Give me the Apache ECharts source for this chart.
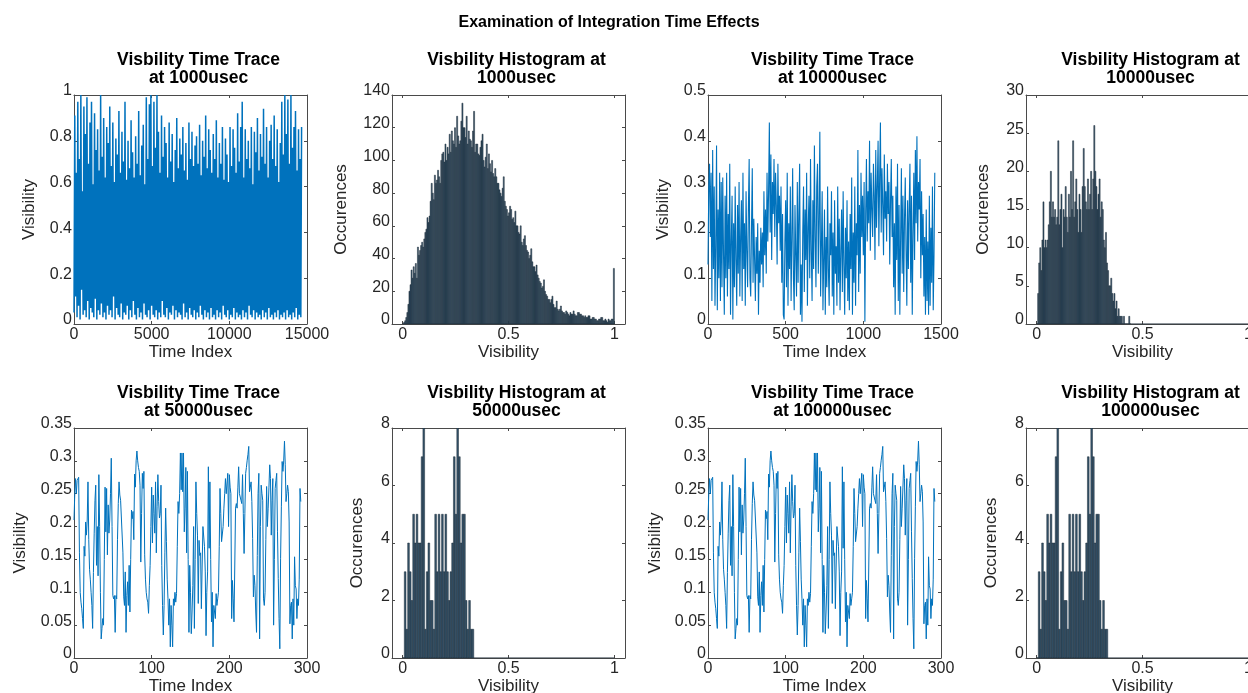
<!DOCTYPE html>
<html><head><meta charset="utf-8">
<script src="https://cdn.jsdelivr.net/npm/echarts@6/dist/echarts.min.js"></script>
<style>html,body{margin:0;padding:0;background:#fff}#c{width:1248px;height:693px}</style>
</head><body><div id="c"></div>
<script>
// ---------------- DATA ----------------
const mainTitle = 'Examination of Integration Time Effects';
const panelTitles = [
  'Visbility Time Trace\nat 1000usec', 'Visbility Histogram at\n1000usec',
  'Visbility Time Trace\nat 10000usec', 'Visbility Histogram at\n10000usec',
  'Visbility Time Trace\nat 50000usec', 'Visbility Histogram at\n50000usec',
  'Visbility Time Trace\nat 100000usec', 'Visbility Histogram at\n100000usec'
];
const histRange = [0, 1];
const histXTicks = [0, 0.5, 1];

// 1000 usec time trace (sampled every 49 time indices)
const trace1000Step = 49;
const trace1000 = [
0.05,0.91,0.12,0.66,0.03,0.97,0.08,0.72,0.02,1.00,0.15,0.58,0.04,0.95,0.06,0.83,0.03,0.99,0.10,0.70,
0.02,0.88,0.07,0.97,0.05,0.61,0.03,0.92,0.11,0.76,0.02,0.85,0.06,0.67,0.04,1.00,0.09,0.73,0.03,0.90,
0.05,0.64,0.02,0.86,0.08,0.79,0.04,0.95,0.06,0.69,0.03,0.88,0.12,0.62,0.02,0.81,0.07,0.74,0.04,0.93,
0.03,0.66,0.09,0.84,0.02,0.71,0.05,0.97,0.04,0.63,0.08,0.80,0.02,0.68,0.06,0.89,0.03,0.75,0.10,0.64,
0.04,0.82,0.02,0.70,0.07,0.93,0.03,0.65,0.05,0.78,0.02,0.87,0.09,0.61,0.04,0.99,0.03,0.72,0.06,0.96,
0.02,1.00,0.08,0.69,0.04,0.97,0.03,0.77,0.06,1.00,0.02,0.84,0.05,0.66,0.03,0.91,0.10,0.73,0.04,0.86,
0.03,0.79,0.07,0.64,0.02,0.88,0.05,0.71,0.04,0.83,0.08,0.62,0.02,0.76,0.06,0.90,0.03,0.68,0.05,0.81,
0.04,0.74,0.02,0.86,0.09,0.67,0.03,0.79,0.05,0.63,0.02,0.88,0.07,0.72,0.04,0.84,0.03,0.69,0.06,0.78,
0.02,0.82,0.05,0.70,0.03,0.87,0.08,0.65,0.04,0.80,0.02,0.73,0.06,0.91,0.03,0.68,0.05,0.85,0.02,0.76,
0.07,0.66,0.03,0.83,0.04,0.72,0.02,0.89,0.06,0.64,0.03,0.79,0.05,0.70,0.02,0.86,0.08,0.63,0.04,0.81,
0.03,0.74,0.06,0.62,0.02,0.86,0.04,0.69,0.03,0.85,0.07,0.77,0.02,0.66,0.05,0.92,0.03,0.71,0.04,0.86,
0.02,0.97,0.06,0.64,0.03,0.85,0.05,0.72,0.02,0.80,0.08,0.68,0.04,0.86,0.03,0.61,0.06,0.84,0.02,0.75,
0.05,0.90,0.03,0.67,0.04,0.83,0.02,0.73,0.06,0.94,0.03,0.70,0.05,0.86,0.02,0.64,0.07,0.80,0.03,0.87,
0.04,0.72,0.02,0.91,0.05,0.69,0.03,0.85,0.06,0.62,0.02,0.79,0.04,0.97,0.03,0.74,0.05,1.00,0.02,0.83,
0.06,0.98,0.03,0.70,0.04,1.00,0.02,0.77,0.05,0.86,0.03,0.93,0.07,0.67,0.02,0.85,0.04,0.72,0.03,0.86
];

// 1000 usec histogram (bin width 0.005 starting at 0)
const hist1000BinWidth = 0.005;
const hist1000 = [
0,1, 2,4, 7,12, 20,24, 33,28, 35,31, 37,28, 47,42, 45,48, 50,47,
52,56, 58,65, 62,66, 75,86, 80,76, 91,86, 88,94, 90,86, 100,104, 105,99,
110,100, 108,104, 116,105, 118,112, 110,120, 108,127, 115,110, 112,124, 135,120, 120,114,
127,110, 118,113, 112,108, 118,130, 105,110, 110,104, 103,108, 112,116, 100,96, 102,110,
95,104, 98,93, 100,92, 90,95, 90,86, 86,82, 80,78, 83,90, 75,72, 70,66,
68,72, 70,64, 65,62, 69,60, 60,56, 55,60, 50,48, 52,54, 48,45, 44,40,
42,46, 38,35, 35,32, 36,30, 28,26, 25,22, 23,27, 20,18, 17,15, 15,13,
15,17, 12,10, 10,14, 9,8, 9,11, 8,7, 7,6, 8,7, 6,5, 7,6,
6,8, 6,5, 5,7, 7,6, 6,5, 5,4, 5,4, 4,5, 5,3, 3,4,
4,3, 3,2, 2,3, 3,4, 4,2, 2,3, 2,1, 3,2, 2,3, 3,34
];

// 10000 usec time trace (sampled every 5 time indices)
const trace10000Step = 5;
const trace10000 = [
0.13,0.30,0.35,0.19,0.33,0.05,0.38,0.12,0.30,0.04,0.17,0.39,0.03,0.25,0.10,0.33,0.05,0.31,0.08,0.32,
0.15,0.02,0.28,0.10,0.33,0.06,0.24,0.12,0.35,0.02,0.18,0.28,0.01,0.22,0.08,0.30,0.14,0.04,0.26,0.11,
0.31,0.06,0.19,0.27,0.05,0.33,0.12,0.22,0.04,0.29,0.16,0.08,0.25,0.36,0.10,0.06,0.21,0.34,0.09,0.23,
0.14,0.05,0.19,0.11,0.22,0.02,0.16,0.09,0.21,0.13,0.20,0.08,0.29,0.15,0.25,0.11,0.33,0.18,0.29,0.44,
0.20,0.37,0.14,0.31,0.24,0.36,0.19,0.33,0.26,0.13,0.35,0.22,0.28,0.16,0.30,0.09,0.24,0.02,0.01,0.18,
0.27,0.08,0.33,0.04,0.22,0.12,0.30,0.05,0.19,0.34,0.10,0.03,0.26,0.15,0.06,0.31,0.09,0.24,0.35,0.02,
0.13,0.005,0.20,0.30,0.07,0.25,0.14,0.33,0.04,0.21,0.28,0.10,0.36,0.16,0.05,0.27,0.12,0.39,0.19,0.08,
0.30,0.35,0.11,0.23,0.42,0.06,0.17,0.29,0.03,0.14,0.25,0.02,0.19,0.08,0.30,0.12,0.04,0.22,0.15,0.29,
0.06,0.20,0.02,0.27,0.11,0.17,0.04,0.30,0.09,0.23,0.03,0.16,0.25,0.07,0.29,0.13,0.02,0.21,0.10,0.27,
0.05,0.18,0.03,0.24,0.12,0.32,0.02,0.20,0.09,0.30,0.04,0.22,0.15,0.38,0.07,0.26,0.11,0.33,0.19,0.28,
0.15,0.31,0.005,0.24,0.36,0.18,0.29,0.22,0.40,0.16,0.33,0.25,0.19,0.35,0.28,0.14,0.38,0.21,0.30,0.40,
0.17,0.32,0.44,0.20,0.34,0.26,0.15,0.37,0.23,0.29,0.18,0.35,0.24,0.31,0.13,0.27,0.36,0.19,0.28,0.08,
0.22,0.02,0.30,0.14,0.35,0.05,0.26,0.02,0.19,0.34,0.11,0.28,0.07,0.23,0.32,0.16,0.04,0.27,0.12,0.25,
0.35,0.09,0.28,0.02,0.20,0.33,0.14,0.38,0.22,0.41,0.18,0.31,0.25,0.36,0.10,0.29,0.15,0.24,0.06,0.19,
0.02,0.25,0.05,0.18,0.02,0.28,0.04,0.21,0.09,0.30,0.03,0.15,0.33
];

// 10000 usec histogram (bin width 0.005 starting at 0)
const hist10000BinWidth = 0.005;
const hist10000 = [
0,4,8,10,7,11,16,10,11,10, 11,13,16,20,14,16,14,15,13,14,
24,13,15,17,10,15,14,18,14,12, 17,14,20,15,24,14,16,19,15,12,
17,15,12,18,23,18,16,15,19,15, 17,20,15,19,26,20,18,15,17,19,
14,16,15,11,10,12,8,7,5,5, 6,4,3,4,2,3,1,2,1,1,
1,0,1,0,0,0,0,1,0
];

// 50000 usec and 100000 usec time trace (one value per time index)
const trace50000Step = 1;
const trace50000 = [
0.21,0.25,0.273,0.25,0.27,0.27,0.275,0.16,0.10,0.085,
0.075,0.06,0.045,0.17,0.155,0.207,0.187,0.21,0.268,0.18,
0.135,0.12,0.10,0.08,0.045,0.13,0.19,0.24,0.263,0.141,
0.20,0.125,0.279,0.20,0.10,0.029,0.045,0.06,0.05,0.15,
0.26,0.192,0.258,0.157,0.233,0.19,0.21,0.25,0.304,0.20,
0.095,0.09,0.095,0.039,0.095,0.09,0.18,0.235,0.268,0.248,
0.24,0.238,0.243,0.16,0.093,0.08,0.131,0.039,0.095,0.116,
0.08,0.141,0.07,0.15,0.225,0.212,0.223,0.18,0.28,0.26,
0.30,0.315,0.30,0.29,0.284,0.263,0.146,0.22,0.281,0.258,
0.284,0.157,0.12,0.10,0.09,0.085,0.068,0.11,0.141,0.20,
0.26,0.175,0.248,0.22,0.19,0.268,0.16,0.23,0.279,0.238,
0.213,0.22,0.263,0.141,0.08,0.035,0.08,0.16,0.228,0.177,
0.12,0.09,0.05,0.09,0.017,0.08,0.05,0.017,0.09,0.08,
0.10,0.085,0.098,0.17,0.238,0.22,0.25,0.312,0.256,0.312,
0.253,0.312,0.192,0.228,0.29,0.16,0.284,0.15,0.039,0.141,
0.10,0.037,0.07,0.11,0.20,0.045,0.15,0.268,0.22,0.187,
0.083,0.179,0.156,0.16,0.075,0.14,0.20,0.197,0.17,0.131,
0.034,0.10,0.131,0.291,0.167,0.268,0.15,0.055,0.10,0.017,
0.08,0.07,0.06,0.098,0.08,0.09,0.10,0.17,0.258,0.22,
0.177,0.175,0.20,0.228,0.25,0.273,0.25,0.253,0.281,0.20,
0.279,0.26,0.25,0.06,0.118,0.09,0.055,0.14,0.228,0.235,
0.228,0.26,0.291,0.25,0.253,0.24,0.235,0.279,0.22,0.159,
0.22,0.281,0.29,0.301,0.31,0.322,0.253,0.26,0.268,0.238,
0.182,0.093,0.126,0.11,0.07,0.039,0.156,0.25,0.281,0.029,
0.20,0.263,0.25,0.24,0.09,0.08,0.10,0.18,0.261,0.20,
0.228,0.26,0.294,0.273,0.187,0.24,0.273,0.05,0.15,0.258,
0.27,0.281,0.192,0.121,0.06,0.014,0.151,0.23,0.299,0.284,
0.30,0.33,0.294,0.238,0.25,0.263,0.253,0.207,0.052,0.08,
0.085,0.029,0.09,0.05,0.154,0.11,0.105,0.06,0.09,0.08,
0.12,0.258,0.238
];

// 50000 usec and 100000 usec histogram (bin width 0.008 starting at 0)
const hist50000BinWidth = 0.008;
const hist50000 = [
0,3,1,4,3,2,5,4,5,4, 4,7,8,1,3,4,2,2,1,5,
3,5,3,5,3,5,3,2,3,4, 7,5,8,7,4,5,5,2,1,2,
1,1
];

// ---------------- CHART ----------------
const FONT = '"Liberation Sans", Arial, Helvetica, sans-serif';
const AX = '#4a4a4a';
const TXT = '#262626';
const LINE = '#0072BD';
const BAR_FILL = '#35546b';
const BAR_EDGE = '#1f2d38';

const cells = [
  {l:74, t:95, w:233, h:229}, {l:392, t:95, w:233, h:229}, {l:708, t:95, w:233, h:229}, {l:1026, t:95, w:233, h:229},
  {l:74, t:428, w:233, h:230}, {l:392, t:428, w:233, h:230}, {l:708, t:428, w:233, h:230}, {l:1026, t:428, w:233, h:230}
];

const panels = [
  {kind:'trace', vals:trace1000, step:trace1000Step, xMax:15000, xInt:5000, yMax:1, yInt:0.2, yName:'Visibility', xName:'Time Index', yGap:36, xGap:20, lw:1.5},
  {kind:'hist', vals:hist1000, bw:hist1000BinWidth, yMax:140, yInt:20, yName:'Occurences', xName:'Visibility', yGap:42, xGap:20},
  {kind:'trace', vals:trace10000, step:trace10000Step, xMax:1500, xInt:500, yMax:0.5, yInt:0.1, yName:'Visibility', xName:'Time Index', yGap:36, xGap:20, lw:1.1},
  {kind:'hist', vals:hist10000, bw:hist10000BinWidth, yMax:30, yInt:5, yName:'Occurences', xName:'Visibility', yGap:34, xGap:20},
  {kind:'trace', vals:trace50000, step:trace50000Step, xMax:300, xInt:100, yMax:0.35, yInt:0.05, yName:'Visibility', xName:'Time Index', yGap:45, xGap:17, lw:1},
  {kind:'hist', vals:hist50000, bw:hist50000BinWidth, yMax:8, yInt:2, yName:'Occurences', xName:'Visibility', yGap:26, xGap:17},
  {kind:'trace', vals:trace50000, step:trace50000Step, xMax:300, xInt:100, yMax:0.35, yInt:0.05, yName:'Visibility', xName:'Time Index', yGap:44, xGap:17, lw:1},
  {kind:'hist', vals:hist50000, bw:hist50000BinWidth, yMax:8, yInt:2, yName:'Occurences', xName:'Visibility', yGap:26, xGap:17}
];

const grid = [], xAxis = [], yAxis = [], series = [], title = [];
title.push({text: mainTitle, left: 604, top: 10, textAlign: 'center',
  textStyle: {fontFamily: FONT, fontSize: 16, fontWeight: 'bold', color: '#000'}});

const tick = {show: true, inside: true, length: 3, lineStyle: {color: AX, width: 1}};
const axLine = {show: true, onZero: false, lineStyle: {color: AX, width: 1}};
const lblStyle = {fontFamily: FONT, fontSize: 16, color: TXT};
const plain = v => String(v);

panels.forEach((p, i) => {
  const c = cells[i];
  grid.push({left: c.l, top: c.t, width: c.w, height: c.h, containLabel: false, outerBoundsMode: 'none'});
  title.push({text: panelTitles[i], left: c.l + c.w / 2 + 3, top: c.t - 49, textAlign: 'center',
    textStyle: {fontFamily: FONT, fontSize: 17.5, fontWeight: 'bold', color: '#000', lineHeight: 18}});
  const isHist = p.kind === 'hist';
  const xBase = isHist
    ? {type: 'value', min: -0.05, max: 1.05}
    : {type: 'value', min: 0, max: p.xMax, interval: p.xInt};
  const xTick = isHist ? Object.assign({}, tick, {customValues: histXTicks}) : tick;
  const xLbl = Object.assign({}, lblStyle, {margin: 3, formatter: plain});
  if (isHist) xLbl.customValues = histXTicks;
  xAxis.push(Object.assign({}, xBase, {
    gridIndex: i, position: 'bottom', axisLine: axLine, axisTick: xTick, splitLine: {show: false},
    axisLabel: xLbl,
    name: p.xName, nameLocation: 'middle', nameGap: p.xGap,
    nameTextStyle: {fontFamily: FONT, fontSize: 17, color: TXT}
  }));
  xAxis.push(Object.assign({}, xBase, {
    gridIndex: i, position: 'top', axisLine: axLine, axisTick: xTick, splitLine: {show: false},
    axisLabel: {show: false}
  }));
  const yBase = {type: 'value', min: 0, max: p.yMax, interval: p.yInt};
  yAxis.push(Object.assign({}, yBase, {
    gridIndex: i, position: 'left', axisLine: axLine, axisTick: tick, splitLine: {show: false},
    axisLabel: Object.assign({}, lblStyle, {margin: 2, verticalAlign: 'bottom', lineHeight: 8, formatter: plain}),
    name: p.yName, nameLocation: 'middle', nameGap: p.yGap,
    nameTextStyle: {fontFamily: FONT, fontSize: 17, color: TXT}
  }));
  yAxis.push(Object.assign({}, yBase, {
    gridIndex: i, position: 'right', axisLine: axLine, axisTick: tick, splitLine: {show: false},
    axisLabel: {show: false}
  }));
  const xi = 2 * i, yi = 2 * i;
  if (!isHist) {
    series.push({
      type: 'line', xAxisIndex: xi, yAxisIndex: yi, symbol: 'none', showSymbol: false,
      data: p.vals.map((v, k) => [k * p.step, v]),
      lineStyle: {color: LINE, width: p.lw}, itemStyle: {color: LINE}, clip: true, silent: true
    });
  } else {
    series.push({
      type: 'line', xAxisIndex: xi, yAxisIndex: yi, symbol: 'none', silent: true,
      data: [[histRange[0], 0], [histRange[1], 0]],
      lineStyle: {color: BAR_EDGE, width: 1}, z: 1
    });
    series.push({
      type: 'custom', xAxisIndex: xi, yAxisIndex: yi, silent: true, clip: true, z: 2,
      data: p.vals.map((v, k) => [histRange[0] + k * p.bw, histRange[0] + (k + 1) * p.bw, v]),
      encode: {x: [0, 1], y: 2},
      renderItem: function (params, api) {
        const a = api.coord([api.value(0), api.value(2)]);
        const b = api.coord([api.value(1), 0]);
        return {type: 'rect', shape: {x: a[0], y: a[1], width: b[0] - a[0], height: b[1] - a[1]},
          style: {fill: BAR_FILL, stroke: BAR_EDGE, lineWidth: 0.5}};
      }
    });
  }
});

const chart = echarts.init(document.getElementById('c'), null, {renderer: 'canvas'});
chart.setOption({animation: false, backgroundColor: '#fff', title, grid, xAxis, yAxis, series});
</script>
</body></html>
